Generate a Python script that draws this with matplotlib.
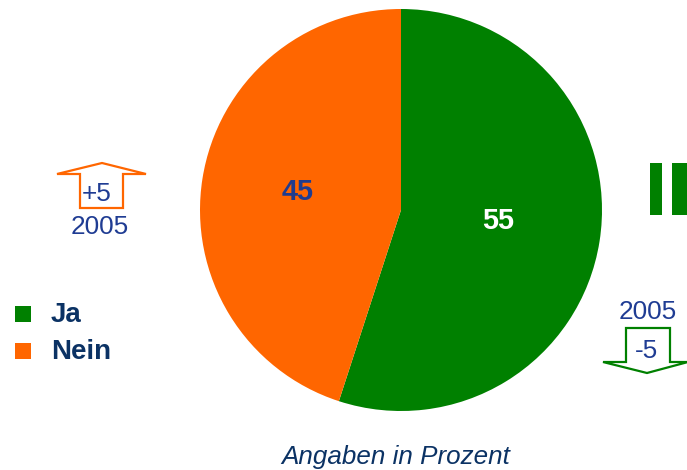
import matplotlib
matplotlib.use("Agg")
import matplotlib.pyplot as plt
from matplotlib.patches import Polygon, Rectangle

categories = ["Ja", "Nein"]
values = [55, 45]
colors = ["#008000", "#FF6600"]
label_colors = ["white", "#1F3C8F"]
change_labels = ["-5", "+5"]
year_label = "2005"
footnote = "Angaben in Prozent"

W, H = 687, 470
fig = plt.figure(figsize=(W / 100, H / 100), dpi=100)
ax = fig.add_axes([0, 0, 1, 1])

def Y(y):
    return H - y

font = ["Liberation Sans", "DejaVu Sans"]
blue = "#1F3C93"
navy = "#0B3264"

ax.pie(values, colors=colors, startangle=90, counterclock=False,
       center=(401, Y(210)), radius=201, wedgeprops=dict(linewidth=0),
       frame=True)
ax.set_xlim(0, W)
ax.set_ylim(0, H)
ax.set_aspect("equal")
ax.axis("off")

# value labels
ax.text(498, Y(221), str(values[0]), color=label_colors[0], fontsize=20.8,
        fontweight="bold", ha="center", va="center", family=font)
ax.text(298, Y(192), str(values[1]), color=label_colors[1], fontsize=20.8,
        fontweight="bold", ha="center", va="center", family=font)

# left up arrow (Nein +5)
up = [(80, 208), (80, 174), (57, 174), (102, 163), (146, 174), (123, 174), (123, 208)]
ax.add_patch(Polygon([(x, Y(y)) for x, y in up], closed=True, fill=False,
                     edgecolor=colors[1], linewidth=1.6))
ax.text(97, Y(194), change_labels[1], color=blue, fontsize=18.8, ha="center",
        va="center", family=font)
ax.text(100, Y(227), year_label, color=blue, fontsize=18.8, ha="center",
        va="center", family=font)

# right down arrow (Ja -5)
down = [(626, 328), (670, 328), (670, 362), (688, 362), (647, 373), (603, 362), (626, 362)]
ax.add_patch(Polygon([(x, Y(y)) for x, y in down], closed=True, fill=False,
                     edgecolor=colors[0], linewidth=1.6, clip_on=False))
ax.text(648, Y(312), year_label, color=blue, fontsize=18.8, ha="center",
        va="center", family=font)
ax.text(647, Y(351), change_labels[0], color=blue, fontsize=18.8, ha="center",
        va="center", family=font)

# green bars at right edge
ax.add_patch(Rectangle((650, Y(215)), 12, 52, color=colors[0], linewidth=0))
ax.add_patch(Rectangle((672, Y(215)), 20, 52, color=colors[0], linewidth=0))

# legend
for i, (cat, col) in enumerate(zip(categories, colors)):
    ytop = 306 + i * 37
    ax.add_patch(Rectangle((15, Y(ytop + 16)), 16, 16, color=col, linewidth=0))
    ax.text(51, Y(ytop + 16), cat, color=navy, fontsize=20, fontweight="bold",
            ha="left", va="baseline", family=font)

ax.text(396, Y(464), footnote, color=navy, fontsize=18.7, fontstyle="italic",
        ha="center", va="baseline", family=font)

fig.savefig("out.png", dpi=100)
